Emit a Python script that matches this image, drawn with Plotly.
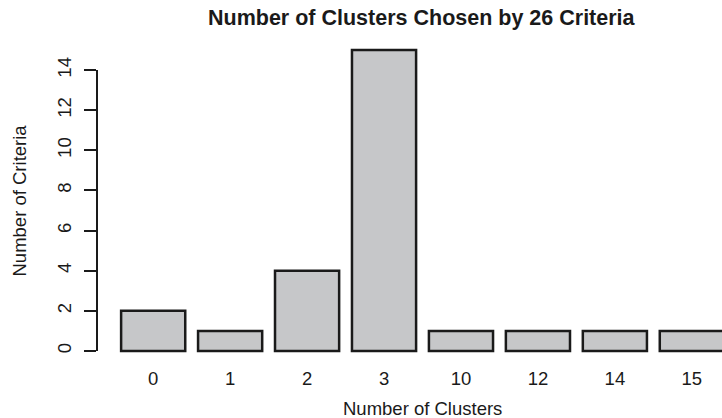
import plotly.graph_objects as go

categories = ["0", "1", "2", "3", "10", "12", "14", "15"]
counts = [2, 1, 4, 15, 1, 1, 1, 1]
y_ticks = [0, 2, 4, 6, 8, 10, 12, 14]

title_text = "Number of Clusters Chosen by 26 Criteria"
x_title = "Number of Clusters"
y_title = "Number of Criteria"

FONT = "Liberation Sans, Arial, Helvetica, sans-serif"
INK = "#1a1a1a"

W, H = 722, 418
ML, MR, MT, MB = 97, 0, 38, 55
PW, PH = W - ML - MR, H - MT - MB

fig = go.Figure()
fig.add_trace(go.Bar(
    x=categories, y=counts,
    marker=dict(color="#c6c7c9", line=dict(color="#1a1a1a", width=2.5)),
    width=1 / 1.2,
    hoverinfo="x+y",
))

# plot-region center (R's plot region extends beyond the image to the right)
cx = (422 - ML) / PW

fig.update_layout(
    width=W, height=H,
    margin=dict(l=ML, r=MR, t=MT, b=MB),
    paper_bgcolor="white", plot_bgcolor="white",
    showlegend=False,
    font=dict(family=FONT, size=18.5, color=INK),
    xaxis=dict(
        type="category",
        range=[-0.73, 7.392],
        showline=False, showgrid=False, zeroline=False,
        ticks="", tickfont=dict(size=18.5, color=INK),
        ticklabelstandoff=2,
    ),
    yaxis=dict(
        range=[-0.6, 15.6],
        tickvals=y_ticks,
        ticktext=[str(v) for v in y_ticks],
        ticks="outside", ticklen=12, tickwidth=2, tickcolor=INK,
        tickangle=-90,
        ticklabelstandoff=6,
        showline=False, showgrid=False, zeroline=False,
        tickfont=dict(size=18.5, color=INK),
    ),
    shapes=[dict(
        type="line", xref="paper", yref="y",
        x0=0, x1=0, y0=min(y_ticks), y1=max(y_ticks),
        line=dict(color=INK, width=2),
    )],
    annotations=[
        dict(text="<b>" + title_text + "</b>", xref="paper", yref="paper",
             x=cx, y=1 + (MT - 18) / PH, xanchor="center", yanchor="middle",
             showarrow=False, font=dict(size=21.5, color=INK, family=FONT)),
        dict(text=x_title, xref="paper", yref="paper",
             x=cx, y=-(408 - (H - MB)) / PH, xanchor="center", yanchor="middle",
             showarrow=False, font=dict(size=18.5, color=INK, family=FONT)),
        dict(text=y_title, xref="paper", yref="paper",
             x=-(ML - 19) / PW, y=0.5, xanchor="center", yanchor="middle",
             textangle=-90,
             showarrow=False, font=dict(size=18.5, color=INK, family=FONT)),
    ],
)

fig.write_html(
    "out.html",
    config={"displayModeBar": False},
    post_script="document.body.style.margin='0px';document.body.style.overflow='hidden';",
)
